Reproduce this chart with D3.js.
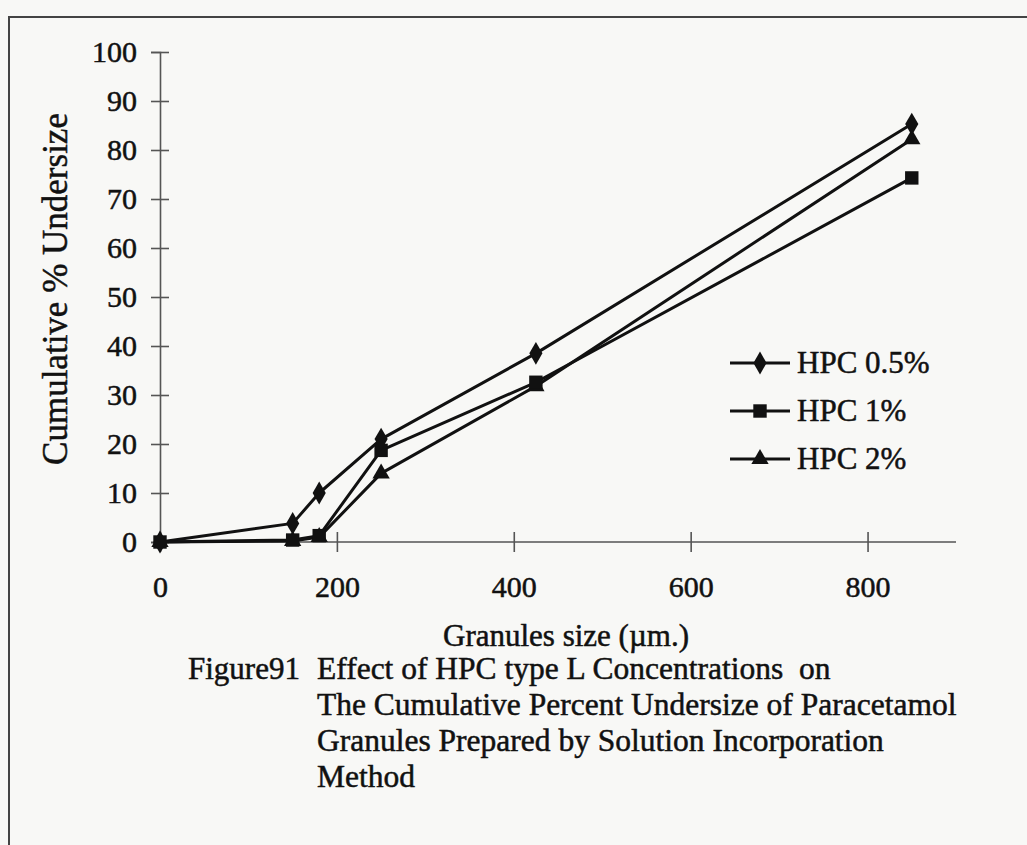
<!DOCTYPE html>
<html>
<head>
<meta charset="utf-8">
<script src="https://cdn.jsdelivr.net/npm/d3@7"></script>
<style>
  html, body { margin: 0; padding: 0; background: #f8f8f6; }
  svg { display: block; }
  text { font-family: "Liberation Serif", "Times New Roman", serif; fill: #111; stroke: #111; stroke-width: 0.5px; white-space: pre; }
</style>
</head>
<body>
<svg id="chart" width="1027" height="845"></svg>
<script>
// ---- data ----
const sizes = [0, 150, 180, 250, 425, 850];             // granule size (µm)
const hpc05 = [0, 3.8, 10, 21, 38.5, 85.3];
const hpc1  = [0, 0.4, 1.3, 18.7, 32.6, 74.3];
const hpc2  = [0, 0.2, 1.0, 14.0, 31.8, 82.2];
const seriesNames = ["HPC 0.5%", "HPC 1%", "HPC 2%"];
const seriesSymbols = ["diamond", "square", "triangle"];
const xTicks = [0, 200, 400, 600, 800];
const yTicks = [0, 10, 20, 30, 40, 50, 60, 70, 80, 90, 100];
const xLabel = "Granules size (\u00b5m.)";
const yLabel = "Cumulative % Undersize";
const captionLead = "Figure91";
const captionLines = [
  "Effect of HPC type L Concentrations  on",
  "The Cumulative Percent Undersize of Paracetamol",
  "Granules Prepared by Solution Incorporation",
  "Method"
];

const svg = d3.select("#chart");

// frame
svg.append("rect")
  .attr("x", 9).attr("y", 17).attr("width", 1040).attr("height", 860)
  .attr("fill", "none").attr("stroke", "#444").attr("stroke-width", 2);

const x = d3.scaleLinear().domain([0, 900]).range([160, 956]);
const y = d3.scaleLinear().domain([0, 100]).range([542, 52]);

const axisColor = "#555";

// y axis
const yAxis = svg.append("g").attr("transform", `translate(${x(0)},0)`)
  .call(d3.axisLeft(y).tickValues(yTicks).tickSize(9).tickPadding(14));
yAxis.select(".domain").attr("stroke", axisColor).attr("stroke-width", 1.6);
yAxis.selectAll(".tick line").attr("stroke", axisColor).attr("stroke-width", 1.6)
  .attr("x1", 9).attr("x2", -9);
yAxis.selectAll(".tick text")
  .style("font-family", '"Liberation Serif", serif').style("font-size", "30px")
  .attr("fill", "#111").attr("x", -23);

// x axis
const xAxis = svg.append("g").attr("transform", `translate(0,${y(0)})`)
  .call(d3.axisBottom(x).tickValues(xTicks).tickSize(10).tickPadding(24));
xAxis.select(".domain").attr("stroke", axisColor).attr("stroke-width", 1.6)
  .attr("d", `M${x(0)},0H${x(900)}`);
xAxis.selectAll(".tick line").attr("stroke", axisColor).attr("stroke-width", 1.6)
  .attr("y1", -10).attr("y2", 10);
xAxis.selectAll(".tick text")
  .style("font-family", '"Liberation Serif", serif').style("font-size", "30px")
  .attr("fill", "#111");

// series
const seriesData = [hpc05, hpc1, hpc2];
const line = d3.line().x(d => x(d[0])).y(d => y(d[1]));
const symMap = { diamond: d3.symbolDiamond, square: d3.symbolSquare, triangle: d3.symbolTriangle };
const symSize = { diamond: 150, square: 180, triangle: 130 };

seriesData.forEach((vals, i) => {
  const pts = sizes.map((s, j) => [s, vals[j]]);
  svg.append("path").datum(pts)
    .attr("fill", "none").attr("stroke", "#111").attr("stroke-width", 3)
    .attr("stroke-linejoin", "round").attr("d", line);
});
// markers drawn after lines
[2, 1, 0].forEach(i => {
  const vals = seriesData[i];
  const sym = seriesSymbols[i];
  svg.append("g").selectAll("path").data(sizes.map((s, j) => [s, vals[j]]))
    .join("path")
    .attr("transform", d => `translate(${x(d[0])},${y(d[1])})`)
    .attr("d", d3.symbol().type(symMap[sym]).size(symSize[sym]))
    .attr("fill", "#111");
});

// legend
const lg = svg.append("g");
seriesNames.forEach((name, i) => {
  const ly = 363 + i * 48;
  lg.append("line").attr("x1", 730).attr("x2", 790).attr("y1", ly).attr("y2", ly)
    .attr("stroke", "#111").attr("stroke-width", 3);
  lg.append("path").attr("transform", `translate(760,${ly})`)
    .attr("d", d3.symbol().type(symMap[seriesSymbols[i]]).size(symSize[seriesSymbols[i]]))
    .attr("fill", "#111");
  lg.append("text").attr("x", 797).attr("y", ly + 10)
    .style("font-size", "31px").text(name);
});

// axis titles
svg.append("text").attr("x", 566).attr("y", 646).attr("text-anchor", "middle")
  .style("font-size", "31px").text(xLabel);
svg.append("text").attr("transform", "translate(67,289) rotate(-90)")
  .attr("text-anchor", "middle").style("font-size", "35px").text(yLabel);

// caption
svg.append("text").attr("x", 188).attr("y", 679).style("font-size", "31px").text(captionLead);
captionLines.forEach((t, i) => {
  svg.append("text").attr("x", 317).attr("y", 679 + i * 36)
    .style("font-size", "31.5px").text(t);
});
</script>
</body>
</html>
